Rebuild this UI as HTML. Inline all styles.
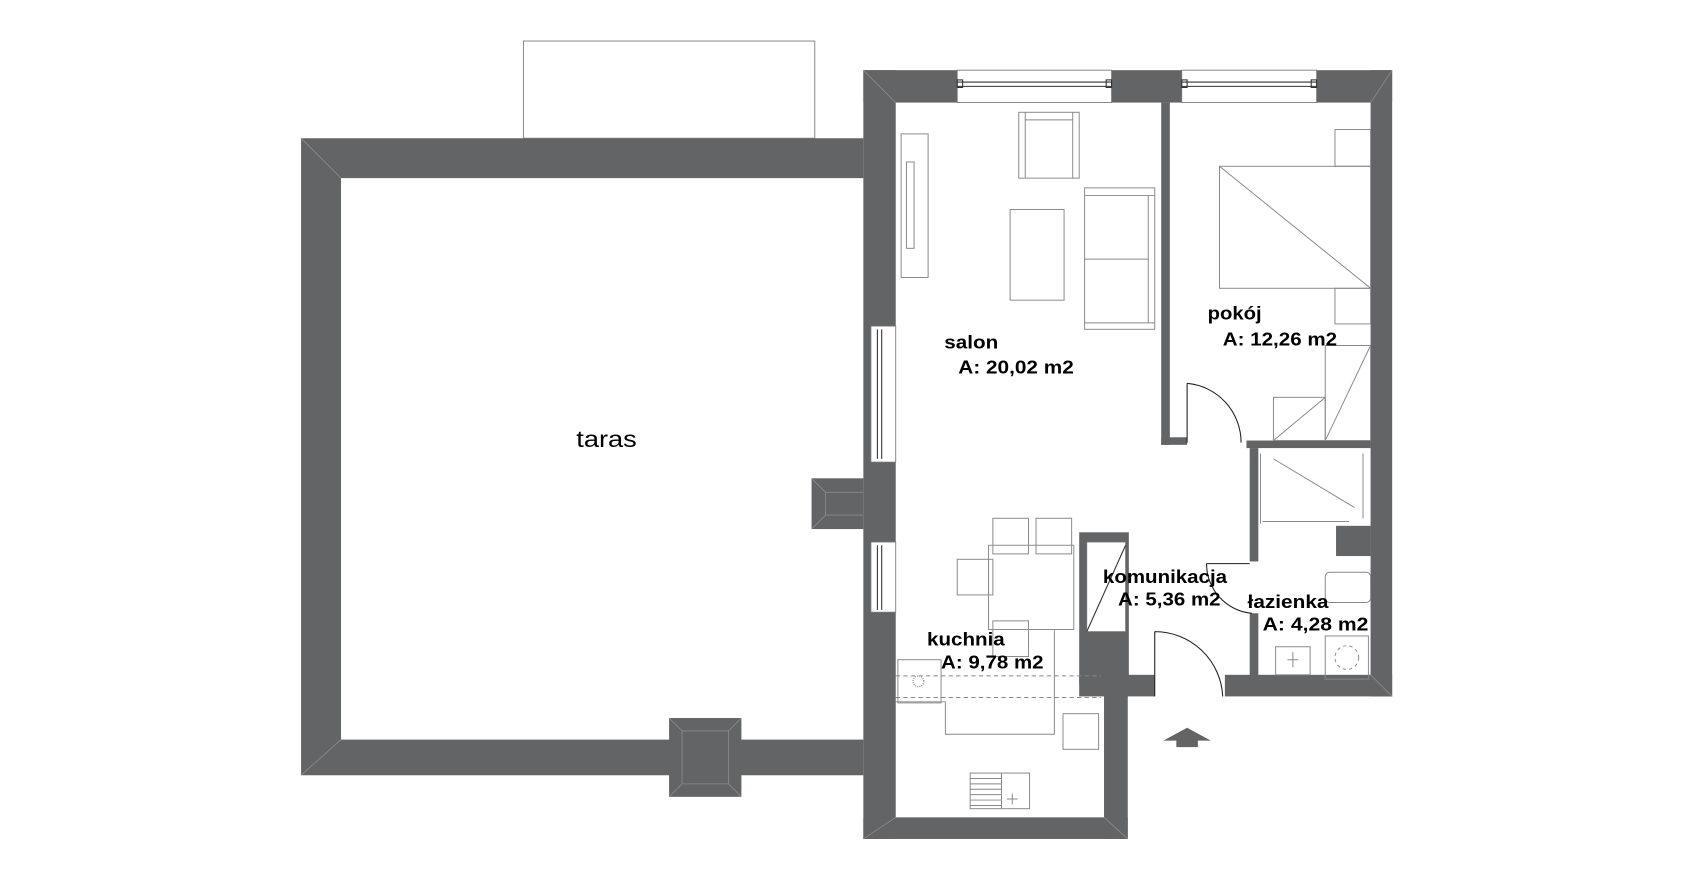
<!DOCTYPE html>
<html><head><meta charset="utf-8"><style>
html,body{margin:0;padding:0;background:#fff;}
svg{display:block;}
text{font-family:"Liberation Sans",sans-serif;font-weight:bold;fill:#000;}
</style></head><body>
<svg width="1692" height="877" viewBox="0 0 1560 809" preserveAspectRatio="none" xmlns="http://www.w3.org/2000/svg">
<g transform="scale(0.995,0.996)">
<g fill="#636466" stroke="none">
<path d="M279 128H800V165H316V685H800V718H279Z"/>
<rect x="620" y="665" width="67" height="73"/>
<rect x="752" y="443" width="48" height="47"/>
<rect x="800" y="65" width="30" height="712"/>
<rect x="800" y="65" width="490" height="30"/>
<rect x="1270" y="65" width="20" height="580"/>
<rect x="1135" y="625" width="155" height="20"/>
<rect x="800" y="757" width="245" height="20"/>
<rect x="1023" y="625" width="22" height="152"/>
<rect x="1000" y="625" width="70" height="20"/>
<rect x="1000" y="493" width="46" height="140"/>
<rect x="1076" y="95" width="8" height="317"/>
<rect x="1076" y="405" width="24" height="7"/>
<rect x="1155" y="408" width="115" height="7"/>
<rect x="1158" y="415" width="8" height="105"/>
<rect x="1158" y="568" width="8" height="62"/>
<rect x="1238" y="487" width="32" height="28"/>
</g>
<g stroke="#8a8a8c" stroke-width="0.8" fill="none">
<path d="M279 128L316 165M800 65L830 95M1290 65L1270 95M1290 645L1270 625M800 777L830 757M1045 777L1023 757M279 718L316 685"/>
<path d="M620 665L632 677H675L687 665M620 738L632 726H675L687 738M632 677V726M675 677V726"/>
<path d="M752 443L765 456H800M752 490L765 477H800M765 456V477"/>
</g>
<g fill="#fff" stroke="#777" stroke-width="0.8">
<rect x="887" y="65" width="143" height="30"/>
<rect x="1095" y="65" width="125" height="30"/>
<rect x="807" y="302" width="23" height="126"/>
<rect x="807" y="502" width="23" height="65"/>
<rect x="1007" y="502" width="36" height="83"/>
</g>
<g stroke="#333" stroke-width="1" fill="none">
<path d="M887 76H1030M887 80H1030M1095 76H1220M1095 80H1220"/>
<rect x="887" y="74" width="5" height="7"/><rect x="1025" y="74" width="5" height="7"/>
<rect x="1095" y="74" width="5" height="7"/><rect x="1215" y="74" width="5" height="7"/>
<path d="M813 305V425M817 305V425M813 505V565M817 505V565"/>
<path d="M1007 585L1043 505"/>
</g>
<rect x="485" y="38" width="270" height="90" fill="none" stroke="#777" stroke-width="0.8"/>
<g fill="none" stroke="#888" stroke-width="0.9">
<rect x="944" y="104" width="56" height="61"/><path d="M950 104V165M994 104V165M950 111H994"/>
<rect x="936" y="194" width="50" height="84"/>
<rect x="1005" y="174" width="65" height="131"/><path d="M1005 181H1070M1005 299H1070M1064 181V299M1005 240H1064"/>
<rect x="835" y="124" width="25" height="133"/><rect x="840" y="150" width="7" height="80"/>
<rect x="1130" y="154" width="140" height="113"/><path d="M1130 154L1270 267"/>
<rect x="1237" y="120" width="33" height="34"/><rect x="1237" y="267" width="33" height="33"/>
<rect x="1228" y="320" width="42" height="88"/><path d="M1228 408L1270 320"/>
<rect x="1180" y="368" width="48" height="40"/><path d="M1180 408L1228 368"/>
<path d="M1168 420L1168 485M1263 420V480M1180 425L1255 470M1170 483H1250"/>
<rect x="1228" y="530" width="42" height="28" rx="4"/>
<rect x="1182" y="599" width="32" height="26"/><path d="M1198 604V618M1193 611H1203"/>
<rect x="1228" y="589" width="40" height="40"/><circle cx="1248" cy="609" r="11" stroke-dasharray="3 3"/>
<rect x="916" y="505" width="79" height="78"/>
<rect x="920" y="480" width="33" height="33"/><rect x="960" y="480" width="33" height="33"/>
<rect x="887" y="518" width="33" height="33"/><rect x="920" y="575" width="33" height="33"/>
<path d="M977 583V680H876V650H830"/>
<rect x="832" y="611" width="40" height="40"/>
<rect x="985" y="661" width="33" height="33"/>
<rect x="899" y="716" width="55" height="33"/><path d="M928 716V749M938 735V745M933 740H943"/>
<path d="M899 721H928M899 726H928M899 731H928M899 736H928M899 741H928M899 746H928"/>
</g>
<path d="M830 626H1020M830 646H1020" stroke="#888" stroke-width="0.9" stroke-dasharray="4 3" fill="none"/>
<circle cx="851" cy="631" r="5" fill="none" stroke="#888" stroke-dasharray="1 1"/>
<g fill="none" stroke="#222" stroke-width="1">
<path d="M1100 355V410M1100 355A55 55 0 0 1 1150 410"/>
<path d="M1118 522H1158M1118 522A46 46 0 0 0 1160 568"/>
<path d="M1070 585V645M1070 585A63 63 0 0 1 1133 645"/>
</g>
<path d="M1078 686L1100 674L1122 686H1110V692H1090V686Z" fill="#636466"/>
<text x="562" y="414" font-size="21" text-anchor="middle" textLength="56" lengthAdjust="spacingAndGlyphs" style="font-weight:normal">taras</text>
<g font-size="17">
<text x="875" y="323" textLength="50" lengthAdjust="spacingAndGlyphs">salon</text>
<text x="888" y="346" textLength="107" lengthAdjust="spacingAndGlyphs">A: 20,02 m2</text>
<text x="1119" y="296" textLength="50" lengthAdjust="spacingAndGlyphs">pokój</text>
<text x="1133" y="320" textLength="106" lengthAdjust="spacingAndGlyphs">A: 12,26 m2</text>
<text x="1022" y="540" textLength="115" lengthAdjust="spacingAndGlyphs">komunikacja</text>
<text x="1036" y="561" textLength="95" lengthAdjust="spacingAndGlyphs">A: 5,36 m2</text>
<text x="1156" y="563" textLength="75" lengthAdjust="spacingAndGlyphs">łazienka</text>
<text x="1170" y="584" textLength="98" lengthAdjust="spacingAndGlyphs">A: 4,28 m2</text>
<text x="859" y="598" textLength="72" lengthAdjust="spacingAndGlyphs">kuchnia</text>
<text x="872" y="619" textLength="95" lengthAdjust="spacingAndGlyphs">A: 9,78 m2</text>
</g>
</g>
</svg>
</body></html>
